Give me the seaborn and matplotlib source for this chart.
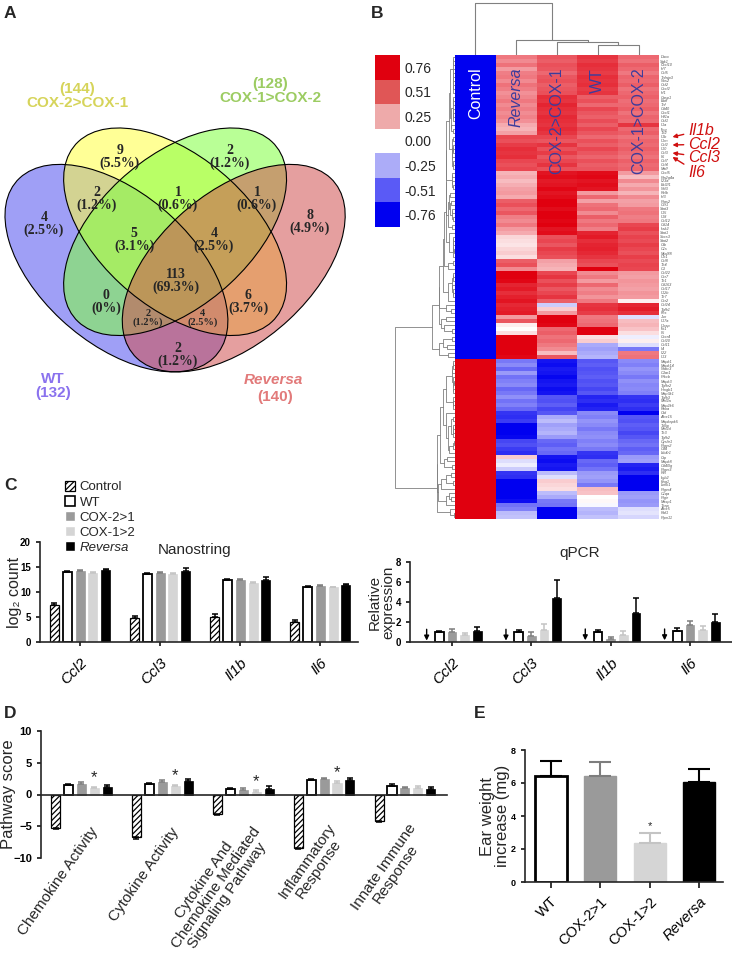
import numpy as np
import pandas as pd
import matplotlib
matplotlib.use("Agg")
import matplotlib.pyplot as plt
import seaborn as sns
from matplotlib.patches import Ellipse, Patch
from matplotlib.colors import LinearSegmentedColormap, ListedColormap

# ======================= DATA =======================
# ---- Panel A : Venn ----
venn_names = ["WT", "COX-2>COX-1", "COX-1>COX-2", "Reversa"]
venn_totals = [132, 144, 128, 140]
venn_counts = [9, 2, 2, 1, 1, 4, 8, 5, 4, 113, 0, 6, 2, 4, 2]
venn_pcts = ["5.5%", "1.2%", "1.2%", "0.6%", "0.6%", "2.5%", "4.9%", "3.1%",
             "2.5%", "69.3%", "0%", "3.7%", "1.2%", "2.5%", "1.2%"]

# ---- Panel B : heatmap (values x100) ----
hm_columns = ["Control", "Reversa", "COX-2>COX-1", "WT", "COX-1>COX-2"]
hm_genes_up = ['Daxx', 'Sgk1', 'Cxcl10', 'Irf7', 'Ccl5', 'Tnfaip3', 'Nos2', 'Csf2', 'Cxcl2', 'Irf1',
               'Casp1', 'Batf', 'Tnf', 'Cd40', 'Cxcl1', 'Hif1a', 'Csf1', 'Il1a', 'Ifng', 'Tlr2',
               'Il1b', 'Il1rn', 'Ccl2', 'Il10', 'Ccl3', 'Il6', 'Ccl7', 'Ccl4', 'Maff', 'Cxcl5',
               'Pla2g4a', 'Il23a', 'Bcl2l1', 'Nfil3', 'Relb', 'Irf3', 'Ptgs2', 'Ccr1', 'Stat3', 'Il15',
               'Il18', 'Ccl12', 'Cd14', 'Irak2', 'Stat1', 'Socs3', 'Stat2', 'Cfb', 'C1s', 'Myd88',
               'Il1r1', 'Ccl8', 'Tlr4', 'C3', 'Ccl22', 'Ccr7', 'Tlr1', 'Cd163', 'Ccl17', 'Il12b',
               'Tlr7', 'Ccr2', 'Ccl24', 'Tgfb1', 'Fos', 'Jun', 'Il17a', 'Il1rap', 'Ifit1', 'Il5',
               'Cxcr4', 'Ccl20', 'Ccl11', 'Il4', 'Il22', 'Il13']
hm_genes_down = ['Mapk1', 'Mapk14', 'Nfatc3', 'C3ar1', 'Prkcb', 'Mapk3', 'Tgfbr2', 'Hmgb1', 'Map3k1', 'Tgfb3',
                 'Mef2a', 'Map2k6', 'Rhoa', 'Cfd', 'Alox15', 'Mapkapk5', 'Tollip', 'Mef2d', 'Tlr3', 'Tgfb2',
                 'Cysltr1', 'Ptger2', 'Cd4', 'Ltb4r1', 'Crp', 'Mapk8', 'Cd40lg', 'Ptger3', 'Rel', 'Itgb2',
                 'Kng1', 'Limk1', 'Ptger4', 'C1qa', 'Ptgir', 'Masp1', 'Tirap', 'Alox5', 'Raf1', 'Ptpn11']

hm_control = [-76, -76, -76, -76, -76, -76, -76, -76, -76, -76,
              -76, -76, -76, -76, -76, -76, -76, -76, -76, -76,
              -76, -76, -76, -76, -76, -76, -76, -76, -76, -76,
              -76, -76, -76, -76, -76, -76, -76, -76, -76, -76,
              -76, -76, -76, -76, -76, -76, -76, -76, -76, -76,
              -76, -76, -76, -76, -76, -76, -76, -76, -76, -76,
              -76, -76, -76, -76, -76, -76, -76, -76, -76, -76,
              -76, -76, -76, -76, -76, -76,
              76, 76, 76, 76, 76, 76, 76, 76, 76, 76,
              76, 76, 76, 76, 76, 76, 76, 76, 76, 76,
              76, 76, 76, 76, 76, 76, 76, 76, 76, 76,
              76, 76, 76, 76, 76, 76, 76, 76, 76, 76]
hm_reversa = [40, 35, 42, 30, 38, 40, 35, 42, 38, 33, 36, 40, 35, 38, 34, 37, 33, 25, 22, 28,
              55, 52, 58, 62, 60, 62, 55, 52, 55,
              22, 25, 20, 24, 28, 30, 25,
              48, 52, 45, 50,
              38, 35, 40, 30, 25,
              12, 10, 8, 12, 15, 10,
              48, 52, 35,
              76, 76, 74,
              65, 68, 62, 66, 70, 64, 66, 68,
              30, 50, 5, 0, 10,
              76, 76, 76, 76, 76, 74,
              -40, -35, -45, -30, -42, -38, -35, -45, -40, -33, -42, -38, -45,
              -60, -62, -58, -76, -76, -76, -74, -55, -52, -58, -62,
              15, -10, -5, -15, -60, -62,
              -76, -76, -76, -76, -76, -72, -42, -38, -20, -18]
hm_cox21 = [50, 48, 52, 50, 45, 50, 52, 48, 50, 52,
            62, 60, 65, 62, 60, 64, 62, 60, 63, 60,
            55, 50, 60, 52, 58, 50, 55, 60, 52,
            70, 72, 68, 70, 74, 70, 72,
            76, 76, 72, 76, 76, 74, 76, 70, 72,
            52, 55, 50, 58, 55, 52,
            28, 25, 22,
            55, 60, 52, 58, 50, 55, 60, 48,
            -15, 15, 30, 76, 76, 74,
            45, 48, 42, 45, 40, 35, 20, 50,
            -70, -72, -68, -70, -74, -70, -68, -72, -70,
            -50, -52, -48, -55, -50,
            -25, -20, -28, -25, -22, -30,
            -45, -48, -42, -45, -70, -72, -68, -70,
            -20, -10, 15, 12, 10, -20, -25, -40, -42, -76, -76, -76]
hm_wt = [60, 58, 62, 60, 58, 62, 60, 62, 58, 60,
         48, 52, 45, 55, 50, 47, 53, 48, 55, 50, 45, 52, 48, 55, 50, 46, 52, 48, 50,
         72, 74, 70, 72, 70,
         30, 45, 28, 42,
         45, 35, 48, 40, 45, 38,
         65, 68, 62, 65, 66, 64, 60,
         55, 52, 76,
         35, 40, 30, 45, 35, 38, 32, 40,
         60, 62, 58, 40, 42, 45, 76, 76, 10, 15,
         -25, -28, -25, -22,
         -50, -48, -52, -50, -48, -52, -50, -55, -50,
         -65, -62, -68, -65,
         -35, -38, -32, -35, -40, -35, -33, -38, -35, -40,
         -60, -62, -45, -48, -42, -30, -28, -32, -40,
         20, 18, 0, 2, -2, -20, -22, -18]
hm_cox12 = [45, 42, 48, 45, 40, 46, 44, 48, 42, 45, 47, 43, 45, 48, 42, 46, 44,
            60,
            45, 48, 42, 46, 44, 48, 45, 42, 47, 44, 46,
            30, 20, 35, 25, 32, 22, 35, 28, 30,
            40, 42, 38, 40,
            55, 58, 52, 56, 54, 58, 55, 52, 57, 54, 56, 55,
            30, 28, 32, 30, 28, 32, 30,
            5, 65, 68, 62, -10, 20, 22, 18, 10, -5, 5, -10, -40, 40, 42,
            -35, -38, -32, -35, -40, -33, -36, -35, -38,
            -60, -62, -58, -62, -76,
            -50, -52, -48, -50, -55, -50,
            -45, -42, -48, -45, -30, -28,
            -65, -68, -62, -76, -76, -76, -76,
            -30, -28, -32, -30, -10, -8, -12]
cbar_levels = [0.76, 0.51, 0.25, 0.00, -0.25, -0.51, -0.76]
highlight_genes = ["Il1b", "Ccl2", "Ccl3", "Il6"]

# ---- Panel C ----
groups = ["Control", "WT", "COX-2>1", "COX-1>2", "Reversa"]
genes_c = ["Ccl2", "Ccl3", "Il1b", "Il6"]
nano_control = [7.5, 4.8, 5.0, 4.0]
nano_control_err = [0.4, 0.4, 0.6, 0.5]
nano_wt = [14.0, 13.6, 12.5, 11.1]
nano_wt_err = [0.15, 0.2, 0.2, 0.15]
nano_cox21 = [14.3, 13.8, 12.5, 11.2]
nano_cox21_err = [0.15, 0.15, 0.15, 0.15]
nano_cox12 = [13.9, 13.6, 11.9, 11.0]
nano_cox12_err = [0.2, 0.2, 0.2, 0.1]
nano_rev = [14.5, 14.3, 12.5, 11.4]
nano_rev_err = [0.2, 0.5, 0.6, 0.2]

qpcr_control = [0.02, 0.02, 0.05, 0.05]
qpcr_control_err = [0.0, 0.0, 0.0, 0.0]
qpcr_wt = [1.0, 1.0, 1.0, 1.1]
qpcr_wt_err = [0.1, 0.25, 0.2, 0.3]
qpcr_cox21 = [1.0, 0.65, 0.27, 1.75]
qpcr_cox21_err = [0.35, 0.35, 0.23, 0.35]
qpcr_cox12 = [0.67, 1.2, 0.75, 1.25]
qpcr_cox12_err = [0.23, 0.65, 0.35, 0.35]
qpcr_rev = [1.1, 4.4, 2.9, 2.05]
qpcr_rev_err = [0.4, 1.8, 1.47, 0.8]

# ---- Panel D ----
pathways = ["Chemokine Activity", "Cytokine Activity",
            "Cytokine And\nChemokine Mediated\nSignaling Pathway",
            "Inflammatory\nResponse", "Innate Immune\nResponse"]
path_control = [-5.2, -6.7, -3.1, -8.5, -4.2]
path_control_err = [0.2, 0.3, 0.2, 0.15, 0.15]
path_wt = [1.45, 1.65, 0.85, 2.25, 1.4]
path_wt_err = [0.15, 0.15, 0.2, 0.15, 0.2]
path_cox21 = [1.65, 1.9, 0.75, 2.4, 0.95]
path_cox21_err = [0.3, 0.4, 0.35, 0.15, 0.25]
path_cox12 = [1.1, 1.35, 0.45, 1.8, 1.0]
path_cox12_err = [0.15, 0.2, 0.2, 0.25, 0.35]
path_rev = [1.25, 2.1, 0.9, 2.3, 0.9]
path_rev_err = [0.2, 0.4, 0.5, 0.3, 0.35]
path_cox12_sig = [True, True, True, True, False]

# ---- Panel E ----
ear_groups = ["WT", "COX-2>1", "COX-1>2", "Reversa"]
ear_mean = [6.45, 6.42, 2.37, 6.07]
ear_err = [0.9, 0.83, 0.63, 0.79]
ear_sig = [False, False, True, False]

# ======================= STYLE =======================
sns.set_theme(style="white")
plt.rcParams["font.family"] = ["Liberation Sans", "DejaVu Sans"]
plt.rcParams["hatch.linewidth"] = 0.9
plt.rcParams["axes.linewidth"] = 1.2

W, H = 732, 957
fig = plt.figure(figsize=(W / 100, H / 100), dpi=100)


def px_axes(l, t, r, b):
    return fig.add_axes([l / W, 1 - b / H, (r - l) / W, (b - t) / H])


group_face = {"Control": "white", "WT": "white", "COX-2>1": "#9a9a9a",
              "COX-1>2": "#d5d5d5", "Reversa": "black"}
group_err = {"Control": "black", "WT": "black", "COX-2>1": "#7d7d7d",
             "COX-1>2": "#c4c4c4", "Reversa": "black"}

# ======================= PANEL A =======================
axA = px_axes(0, 60, 365, 405)


def vx(px):
    return 0.065 + (px - 5) / 391


def vy(py):
    return 0.855 - (py - 128) / 364


axA.set_xlim(vx(0), vx(365))
axA.set_ylim(vy(405), vy(60))
axA.axis("off")
ell_centers = [(0.35, 0.47), (0.5, 0.57), (0.5, 0.57), (0.65, 0.47)]
ell_angles = [-45, -45, 45, 45]
ell_colors = ["#5050f0", "#ffff40", "#80ff40", "#d05050"]
for (cx, cy), ang, col in zip(ell_centers, ell_angles, ell_colors):
    axA.add_patch(Ellipse((cx, cy), 0.70, 0.40, angle=ang, facecolor=col,
                          alpha=0.55, edgecolor="none"))
for (cx, cy), ang in zip(ell_centers, ell_angles):
    axA.add_patch(Ellipse((cx, cy), 0.70, 0.40, angle=ang, fill=False,
                          edgecolor="black", lw=0.8))

venn_label_px = [(120, 157), (230, 157), (97, 199), (178, 199), (257, 199),
                 (44, 224), (310, 222), (134, 240), (214, 240), (176, 281),
                 (106, 302), (248, 302), (148, 318), (203, 318), (178, 355)]
small_regions = {12, 13}
for k, (cnt, pct) in enumerate(zip(venn_counts, venn_pcts)):
    px, py = venn_label_px[k]
    axA.text(vx(px), vy(py), f"{cnt}\n({pct})", ha="center", va="center",
             fontsize=7.5 if k in small_regions else 10, fontweight="bold",
             family=["Liberation Serif", "DejaVu Serif"], linespacing=0.9)

set_label_px = [(53, 386), (77, 96), (270, 91), (273, 388)]
set_label_col = ["#8a72ee", "#d6d45a", "#9ccc62", "#e27a7a"]
for k, (name, tot) in enumerate(zip(venn_names, venn_totals)):
    px, py = set_label_px[k]
    if name == "Reversa":
        axA.text(vx(px), vy(py - 8), name, ha="center", va="center", fontsize=11,
                 fontweight="bold", color=set_label_col[k], style="italic")
        axA.text(vx(px + 2), vy(py + 9), f"({tot})", ha="center", va="center",
                 fontsize=11, fontweight="bold", color=set_label_col[k])
    else:
        txt = f"({tot})\n{name}" if k in (1, 2) else f"{name}\n({tot})"
        axA.text(vx(px), vy(py), txt, ha="center", va="center", fontsize=11,
                 fontweight="bold", color=set_label_col[k], linespacing=1.05)

# ======================= PANEL B =======================
hm_genes = hm_genes_up + hm_genes_down
hm_df = pd.DataFrame({c: np.array(v) / 100.0 for c, v in
                      zip(hm_columns, [hm_control, hm_reversa, hm_cox21, hm_wt, hm_cox12])},
                     index=hm_genes)
cmap = LinearSegmentedColormap.from_list("bwr_custom", [(0, "#0000f0"), (0.5, "#ffffff"),
                                                         (1, "#e0000f")])
axH = px_axes(455, 55, 659, 519)
sns.heatmap(hm_df, ax=axH, cmap=cmap, vmin=-0.76, vmax=0.76, cbar=False,
            xticklabels=False, yticklabels=hm_genes)
axH.yaxis.tick_right()
axH.set_yticks(np.arange(len(hm_genes)) + 0.5)
axH.set_yticklabels(hm_genes, fontsize=2.8, style="italic", color="#555555", rotation=0)
axH.tick_params(axis="y", length=0, pad=1)
axH.set_ylabel("")
for j, col in enumerate(hm_columns):
    axH.text(j + 0.5, 3.2, col, rotation=90, ha="center", va="top", fontsize=11.5,
             color="white" if col == "Control" else "#3c3c9c",
             style="italic" if col == "Reversa" else "normal")

# highlighted genes with arrows
hl_text_rows = [18.8, 22.3, 25.6, 29.3]
for g, tr in zip(highlight_genes, hl_text_rows):
    r = hm_genes.index(g) + 0.5
    axH.annotate(g, xy=(5.33, r), xytext=(5.72, tr), ha="left", va="center",
                 fontsize=11.5, style="italic", color="#d01010", annotation_clip=False,
                 arrowprops=dict(arrowstyle="-|>", color="#d01010", lw=1.0,
                                 shrinkA=1, shrinkB=0, mutation_scale=6))

# discrete colour key
axK = px_axes(375, 55, 400, 227)
key_cols = ["#0000f0", "#5a5af6", "#acacf8", "#ffffff", "#eeaaaa", "#e05656", "#e0000f"]
sns.heatmap(np.array(cbar_levels).reshape(-1, 1), ax=axK, cmap=ListedColormap(key_cols),
            vmin=-0.76, vmax=0.76, cbar=False, xticklabels=False,
            yticklabels=[f"{v:.2f}" for v in cbar_levels])
axK.yaxis.tick_right()
axK.tick_params(axis="y", length=0, pad=3, labelsize=10, labelrotation=0)


# dendrograms (ordered average linkage computed from the heatmap values)
def ordered_average_links(X):
    n = len(X)
    D = np.sqrt(((X[:, None, :] - X[None, :, :]) ** 2).sum(-1))
    clusters = [[i, i + 1, i + 0.5, 0.0] for i in range(n)]
    links = []
    while len(clusters) > 1:
        d = [D[a[0]:a[1], b[0]:b[1]].mean() for a, b in zip(clusters[:-1], clusters[1:])]
        k = int(np.argmin(d))
        a, b = clusters[k], clusters[k + 1]
        h = max(d[k], a[3], b[3])
        links.append((a[2], a[3], b[2], b[3], h))
        clusters[k:k + 2] = [[a[0], b[1], (a[2] + b[2]) / 2, h]]
    return links


X = hm_df.values
row_links = ordered_average_links(X)
axL = px_axes(393, 55, 455, 519)
for p1, h1, p2, h2, h in row_links:
    axL.plot([h1, h, h, h2], [p1, p1, p2, p2], color="#808080", lw=0.6)
axL.set_ylim(len(X), 0)
axL.set_xlim(row_links[-1][4] * 1.03, 0)
axL.axis("off")

col_links = ordered_average_links(X.T)
axT = px_axes(455, 0, 659, 55)
for p1, h1, p2, h2, h in col_links:
    axT.plot([p1, p1, p2, p2], [h1, h, h, h2], color="#808080", lw=0.8)
axT.set_xlim(0, len(hm_columns))
axT.set_ylim(0, col_links[-1][4] * 1.06)
axT.axis("off")


# ======================= helpers for bar panels =======================
def grouped_bars(ax, cats, series, errs):
    rows = []
    for g, vals in zip(groups, series):
        for c, v in zip(cats, vals):
            rows.append((c, g, v))
    df = pd.DataFrame(rows, columns=["cat", "group", "value"])
    sns.barplot(data=df, x="cat", y="value", hue="group", order=cats, hue_order=groups,
                palette=group_face, width=0.8, gap=0.3, errorbar=None, legend=False,
                saturation=1, ax=ax)
    bar_containers = list(ax.containers)[:len(groups)]
    centers = {}
    for gi, cont in enumerate(bar_containers):
        g = groups[gi]
        centers[g] = []
        for bar, e in zip(cont, errs[gi]):
            if g == "Control":
                bar.set_facecolor("white")
                bar.set_hatch("//////")
                bar.set_edgecolor("black")
                bar.set_linewidth(0.9)
            elif g == "WT":
                bar.set_edgecolor("black")
                bar.set_linewidth(1.3)
            else:
                bar.set_edgecolor(group_face[g])
                bar.set_linewidth(0.5)
            x = bar.get_x() + bar.get_width() / 2
            h = bar.get_height()
            centers[g].append((x, h, e))
            if e > 0:
                yerr = [[0], [e]] if h >= 0 else [[e], [0]]
                ax.errorbar(x, h, yerr=yerr, fmt="none", ecolor=group_err[g],
                            elinewidth=1.1, capsize=2.3, capthick=1.1, zorder=3)
    return centers


def style_axis(ax, ylabsize=7):
    sns.despine(ax=ax)
    ax.tick_params(axis="both", direction="out", length=3, width=1.1, colors="black",
                   labelsize=ylabsize, bottom=True, left=True)
    for lab in ax.get_yticklabels():
        lab.set_fontweight("bold")
    ax.set_xlabel("")


# ======================= PANEL C =======================
axC1 = px_axes(40, 542, 358, 642)
grouped_bars(axC1, genes_c, [nano_control, nano_wt, nano_cox21, nano_cox12, nano_rev],
             [nano_control_err, nano_wt_err, nano_cox21_err, nano_cox12_err, nano_rev_err])
axC1.set_ylim(0, 20)
axC1.set_yticks([0, 5, 10, 15, 20])
axC1.set_xlim(-0.5, 3.47)
axC1.set_xticks(range(len(genes_c)))
axC1.set_xticklabels(genes_c, rotation=45, ha="right", rotation_mode="anchor",
                     style="italic", fontsize=11)
style_axis(axC1)
axC1.tick_params(axis="x", pad=7, labelsize=11)
axC1.set_ylabel("log\u2082 count", fontsize=11.5)
axC1.yaxis.set_label_coords(-0.057, 0.5)
axC1.text(0.487, 0.92, "Nanostring", transform=axC1.transAxes, ha="center",
          va="center", fontsize=11)

axC2 = px_axes(410, 562, 732, 642)
qc = grouped_bars(axC2, genes_c, [qpcr_control, qpcr_wt, qpcr_cox21, qpcr_cox12, qpcr_rev],
                  [qpcr_control_err, qpcr_wt_err, qpcr_cox21_err, qpcr_cox12_err, qpcr_rev_err])
axC2.set_ylim(0, 8)
axC2.set_yticks([0, 2, 4, 6, 8])
axC2.set_xlim(-0.53, 3.53)
axC2.set_xticks(range(len(genes_c)))
axC2.set_xticklabels(genes_c, rotation=45, ha="right", rotation_mode="anchor",
                     style="italic", fontsize=11)
style_axis(axC2)
axC2.tick_params(axis="x", pad=7, labelsize=11)
axC2.set_ylabel("Relative\nexpression", fontsize=11, linespacing=1.0)
axC2.yaxis.set_label_coords(-0.045, 0.5)
axC2.text(0.528, 1.11, "qPCR", transform=axC2.transAxes, ha="center", va="center",
          fontsize=11)
for x, h, e in qc["Control"]:
    axC2.annotate("", xy=(x, h + 0.12), xytext=(x, h + 1.25),
                  arrowprops=dict(arrowstyle="-|>", color="black", lw=1.0,
                                  mutation_scale=7, shrinkA=0, shrinkB=0))

handles = [Patch(facecolor="white", edgecolor="black", hatch="//////", lw=0.9),
           Patch(facecolor="white", edgecolor="black", lw=1.2),
           Patch(facecolor=group_face["COX-2>1"]),
           Patch(facecolor=group_face["COX-1>2"]),
           Patch(facecolor="black")]
leg = fig.legend(handles, groups, loc="upper left", bbox_to_anchor=(65 / W, 1 - 481 / H),
                 frameon=False, fontsize=9.5, handlelength=0.75, handleheight=0.75,
                 handletextpad=0.35, labelspacing=0.2, borderpad=0, borderaxespad=0)
leg.get_texts()[-1].set_style("italic")

# ======================= PANEL D =======================
axD = px_axes(41, 731, 447, 858)
dc = grouped_bars(axD, pathways, [path_control, path_wt, path_cox21, path_cox12, path_rev],
                  [path_control_err, path_wt_err, path_cox21_err, path_cox12_err, path_rev_err])
axD.set_ylim(-10, 10)
axD.set_yticks([-10, -5, 0, 5, 10])
axD.set_xlim(-0.5, 4.52)
style_axis(axD, ylabsize=8)
axD.spines["bottom"].set_position(("data", 0))
axD.set_xticks(range(len(pathways)))
axD.set_xticklabels([])
axD.tick_params(axis="x", length=0)
axD.set_ylabel("Pathway score", fontsize=12)
axD.yaxis.set_label_coords(-0.062, 0.5)
for xt, lab in zip(axD.get_xticks(), pathways):
    axD.text(xt + 0.17, -5.4, lab, rotation=55, ha="right", va="center",
             rotation_mode="anchor", multialignment="center", fontsize=11,
             linespacing=1.0)
for (x, h, e), sig in zip(dc["COX-1>2"], path_cox12_sig):
    if sig:
        axD.text(x, h + e + 0.2, "*", ha="center", va="bottom", fontsize=12)

# ======================= PANEL E =======================
axE = px_axes(525, 750, 723, 882)
sns.barplot(x=ear_groups, y=ear_mean, hue=ear_groups, order=ear_groups,
            palette=[group_face[g] for g in ear_groups], width=0.65, saturation=1,
            legend=False, ax=axE)
ear_bars = list(axE.patches)
for bar, g, e, sig in zip(ear_bars, ear_groups, ear_err, ear_sig):
    if g == "WT":
        bar.set_edgecolor("black")
        bar.set_linewidth(2.0)
    else:
        bar.set_edgecolor(group_face[g])
    x = bar.get_x() + bar.get_width() / 2
    h = bar.get_height()
    axE.errorbar(x, h, yerr=[[0], [e]], fmt="none", ecolor=group_err[g],
                 elinewidth=1.5, capsize=8, capthick=1.5, zorder=3)
    if sig:
        axE.text(x, h + e + 0.1, "*", ha="center", va="bottom", fontsize=8)
axE.set_ylim(0, 8)
axE.set_yticks([0, 2, 4, 6, 8])
axE.set_xlim(-0.52, 3.48)
style_axis(axE, ylabsize=6.5)
axE.tick_params(axis="x", length=4, pad=5, labelsize=10.5)
axE.set_xticks(range(len(ear_groups)))
axE.set_xticklabels(ear_groups, rotation=45, ha="right", rotation_mode="anchor",
                    fontsize=10.5)
axE.get_xticklabels()[-1].set_style("italic")
axE.set_ylabel("Ear weight\nincrease (mg)", fontsize=12, linespacing=1.05)
axE.yaxis.set_label_coords(-0.075, 0.5)

# ======================= panel letters =======================
for letter, (px, py) in zip("ABCDE", [(4, 13), (371, 13), (4, 485), (4, 714), (474, 714)]):
    fig.text(px / W, 1 - py / H, letter, fontsize=12.5, fontweight="bold",
             ha="left", va="center")

fig.savefig("out.png", dpi=100)
